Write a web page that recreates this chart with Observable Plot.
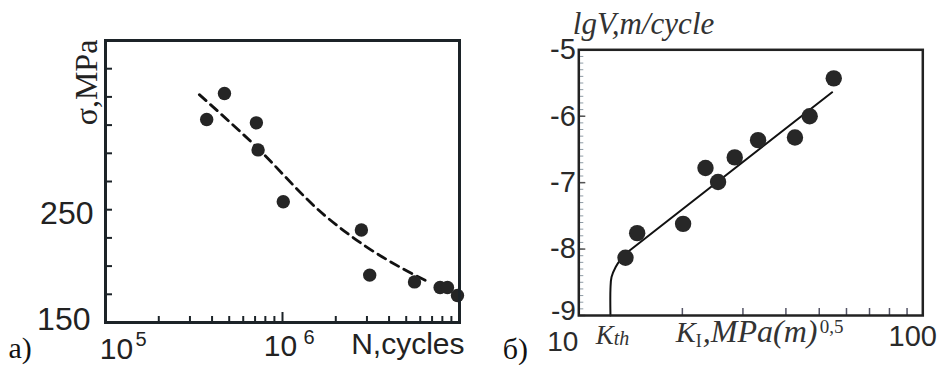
<!DOCTYPE html>
<html><head><meta charset="utf-8">
<script src="https://cdn.jsdelivr.net/npm/d3@7"></script>
<script src="https://cdn.jsdelivr.net/npm/@observablehq/plot@0.6"></script>
<style>
html,body{margin:0;padding:0;background:#fff;}
#wrap{position:relative;width:941px;height:365px;overflow:hidden;background:#fff;}
#wrap svg{position:absolute;top:0;}
</style></head><body><div id="wrap"></div>
<script>
// ---------- Panel a) : fatigue curve ----------
const fatigueCycles = [3.73e5, 4.70e5, 7.12e5, 7.28e5, 1.01e6, 2.79e6, 3.11e6, 5.57e6, 7.77e6, 8.55e6, 9.74e6];
const fatigueStress = [330, 353, 327, 303, 257, 232, 192, 186, 181, 181, 174];
const curveCycles = [3.39e5, 6.67e5, 1.73e6, 2.92e6, 4.74e6, 6.67e6];
const curveStress = [352, 310, 245, 218, 198, 186];
const stressTicks = [175, 200, 225, 250, 275, 300, 325, 350, 375];
const stressLabels = [150, 250];
const cycleMinorTicks = [2e5, 3e5, 4e5, 5e5, 6e5, 7e5, 8e5, 9e5, 2e6, 3e6, 4e6, 5e6, 6e6, 7e6, 8e6, 9e6];
const cycleMajorTicks = [1e6];
const cycleLabels = [1e5, 1e6];

// ---------- Panel б) : crack growth rate ----------
const sifK = [13.67, 14.78, 20.1, 23.35, 25.4, 28.4, 33.2, 42.5, 46.9, 55.1];
const logRate = [-8.13, -7.76, -7.62, -6.78, -6.99, -6.62, -6.36, -6.32, -6.0, -5.43];
const fitK = [13.67, 54.5];
const fitLogRate = [-8.07, -5.64];
const thresholdK = [12.36, 12.36, 12.45, 12.8, 13.25, 13.67];
const thresholdLogRate = [-9, -8.6, -8.42, -8.27, -8.15, -8.07];
const kTicks = [20, 30, 40, 50, 60, 70, 80, 90];
const kLabels = [10, 100];
const rateLabels = [-5, -6, -7, -8, -9];
const rateMinorTicks = d3.range(-89, -50).map(v => v / 10);

const SANS = "Liberation Sans, Arial, sans-serif";
const SERIF = "Liberation Serif, Times New Roman, serif";
const INK = "#222";

const zip = (xs, ys) => xs.map((x, i) => ({x, y: ys[i]}));
const T = (o) => ({lineAnchor: "middle", ...o});

// ----- left panel -----
const LW = 470, LH = 365, LML = 105, LMR = 11, LMT = 40, LMB = 43;
const lpw = LW - LML - LMR, lph = LH - LMT - LMB;

const left = Plot.plot({
  width: LW, height: LH,
  marginLeft: LML, marginRight: LMR, marginTop: LMT, marginBottom: LMB,
  x: {type: "log", domain: [1e5, 1e7], axis: null},
  y: {domain: [150, 400], axis: null},
  style: {background: "transparent"},
  marks: [
    Plot.ruleY(stressTicks, {y: d => d, insetRight: lpw - 7, stroke: "#1c2328", strokeWidth: 2}),
    Plot.ruleX(cycleMinorTicks, {x: d => d, insetTop: lph - 6, stroke: "#1c2328", strokeWidth: 2}),
    Plot.ruleX(cycleMajorTicks, {x: d => d, insetTop: lph - 10, stroke: "#1c2328", strokeWidth: 2}),
    Plot.line(zip(curveCycles, curveStress), {x: "x", y: "y", curve: "monotone-x", stroke: "#111", strokeWidth: 2.8, strokeDasharray: "9,6"}),
    Plot.dot(zip(fatigueCycles, fatigueStress), {x: "x", y: "y", r: 6.7, fill: "#252525"}),
    Plot.frame({stroke: "#1c2328", strokeWidth: 3}),
    Plot.text(stressLabels.filter(d => d === 250), T({y: d => d, text: d => String(d), frameAnchor: "left", textAnchor: "end", dx: -12, dy: 4, fontSize: 32, fontFamily: SANS, fill: INK})),
    Plot.text(stressLabels.filter(d => d === 150), T({y: d => d, text: d => String(d), frameAnchor: "left", textAnchor: "end", dx: -15, dy: -3, fontSize: 32, fontFamily: SANS, fill: INK})),
    Plot.text(cycleLabels.filter(d => d === 1e5), T({x: d => d, text: d => "10", frameAnchor: "bottom", textAnchor: "middle", dx: 11, dy: 26.5, fontSize: 30, fontFamily: SANS, fill: INK})),
    Plot.text(cycleLabels.filter(d => d === 1e5), T({x: d => d, text: d => String(Math.round(Math.log10(d))), frameAnchor: "bottom", textAnchor: "start", dx: 30, dy: 17, fontSize: 20, fontFamily: SANS, fill: INK})),
    Plot.text(cycleLabels.filter(d => d === 1e6), T({x: d => d, text: d => "10", frameAnchor: "bottom", textAnchor: "middle", dx: -2, dy: 24, fontSize: 30, fontFamily: SANS, fill: INK})),
    Plot.text(cycleLabels.filter(d => d === 1e6), T({x: d => d, text: d => String(Math.round(Math.log10(d))), frameAnchor: "bottom", textAnchor: "start", dx: 21, dy: 15, fontSize: 20, fontFamily: SANS, fill: INK})),
    Plot.text(["N,cycles"], T({text: d => d, frameAnchor: "bottom-right", textAnchor: "end", dx: 5, dy: 22, fontSize: 30, fontFamily: SANS, fill: INK})),
    Plot.text(["σ,MPa"], T({text: d => d, frameAnchor: "top-left", textAnchor: "middle", rotate: -90, dx: -19, dy: 42, fontSize: 32, fontFamily: SERIF, fill: INK})),
    Plot.text(["a)"], T({text: d => d, frameAnchor: "bottom-left", textAnchor: "start", dx: -97, dy: 26, fontSize: 30, fontFamily: SERIF, fill: "#111"}))
  ]
});

// ----- right panel -----
const RW = 471, RH = 365, RML = 108.3, RMR = 18.7, RMT = 49.3, RMB = 50;
const rpw = RW - RML - RMR, rph = RH - RMT - RMB;

const right = Plot.plot({
  width: RW, height: RH,
  marginLeft: RML, marginRight: RMR, marginTop: RMT, marginBottom: RMB,
  x: {type: "log", domain: [10, 100], axis: null},
  y: {domain: [-9, -5], axis: null},
  style: {background: "transparent"},
  marks: [
    Plot.ruleY(rateMinorTicks, {y: d => d, insetRight: rpw - 5, stroke: "#8e9ba5", strokeWidth: 1}),
    Plot.ruleY(rateLabels, {y: d => d, insetRight: rpw - 7, stroke: "#555", strokeWidth: 1.5}),
    Plot.ruleX(kTicks, {x: d => d, insetTop: rph - 7, stroke: "#556", strokeWidth: 1.5}),
    Plot.line(zip(thresholdK, thresholdLogRate), {x: "x", y: "y", curve: "catmull-rom", stroke: "#111", strokeWidth: 2}),
    Plot.line(zip(fitK, fitLogRate), {x: "x", y: "y", stroke: "#111", strokeWidth: 2}),
    Plot.dot(zip(sifK, logRate), {x: "x", y: "y", r: 8.2, fill: "#272727"}),
    Plot.frame({stroke: "#222", strokeWidth: 2.5}),
    Plot.text(rateLabels.filter(d => d !== -9), T({y: d => d, text: d => String(d), frameAnchor: "left", textAnchor: "end", dx: -3, dy: 0, fontSize: 29, fontFamily: SANS, fill: "#2a2a2a"})),
    Plot.text(rateLabels.filter(d => d === -9), T({y: d => d, text: d => String(d), frameAnchor: "left", textAnchor: "end", dx: -3, dy: -4, fontSize: 28, fontFamily: SANS, fill: "#2a2a2a"})),
    Plot.text(kLabels.filter(d => d === 10), T({x: d => d, text: d => String(d), frameAnchor: "bottom", textAnchor: "middle", dx: -16, dy: 27, fontSize: 28, fontFamily: SANS, fill: "#2a2a2a"})),
    Plot.text(kLabels.filter(d => d === 100), T({x: d => d, text: d => String(d), frameAnchor: "bottom", textAnchor: "middle", dx: -10, dy: 21, fontSize: 29, fontFamily: SANS, fill: "#2a2a2a"})),
    Plot.text(["lgV,m/cycle"], T({text: d => d, frameAnchor: "top-left", textAnchor: "start", dx: -6, dy: -26, fontSize: 31, fontFamily: SERIF, fontStyle: "italic", fill: "#333"})),
    Plot.text(["K"], T({text: d => d, frameAnchor: "bottom-left", textAnchor: "start", dx: 17, dy: 20, fontSize: 27, fontFamily: SERIF, fontStyle: "italic", fill: "#333"})),
    Plot.text(["th"], T({text: d => d, frameAnchor: "bottom-left", textAnchor: "start", dx: 35, dy: 23, fontSize: 20, fontFamily: SERIF, fontStyle: "italic", fill: "#333"})),
    Plot.text(["K"], T({text: d => d, frameAnchor: "bottom-left", textAnchor: "start", dx: 97, dy: 17, fontSize: 30, fontFamily: SERIF, fontStyle: "italic", fill: "#333"})),
    Plot.text(["I"], T({text: d => d, frameAnchor: "bottom-left", textAnchor: "start", dx: 117, dy: 26, fontSize: 18, fontFamily: SERIF, fill: "#333"})),
    Plot.text([",MPa(m)"], T({text: d => d, frameAnchor: "bottom-left", textAnchor: "start", dx: 124, dy: 16.5, fontSize: 32, fontFamily: SERIF, fontStyle: "italic", fill: "#333"})),
    Plot.text(["0,5"], T({text: d => d, frameAnchor: "bottom-left", textAnchor: "start", dx: 241, dy: 11, fontSize: 19, fontFamily: SERIF, fill: "#333"})),
    Plot.text(["б)"], T({text: d => d, frameAnchor: "bottom-left", textAnchor: "start", dx: -76, dy: 33.5, fontSize: 30, fontFamily: SERIF, fill: "#111"}))
  ]
});

left.style.left = "0px";
right.style.left = "470px";
document.getElementById("wrap").append(left, right);
</script>
</body></html>
